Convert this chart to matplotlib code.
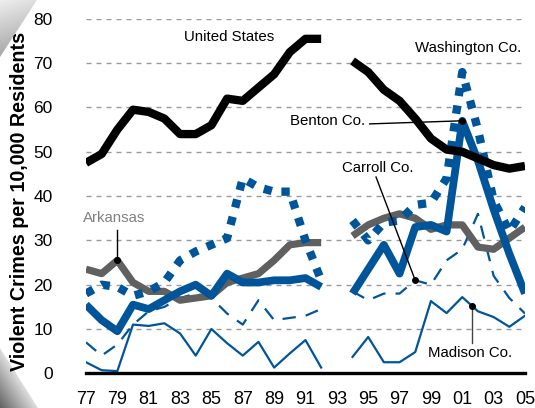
import numpy as np
import matplotlib
matplotlib.use('Agg')
import matplotlib.pyplot as plt
from matplotlib.patches import Polygon

plt.rcParams['font.family'] = ['Liberation Sans', 'DejaVu Sans']

# violent crimes per 10,000 residents, no figures for 1993
years_a = list(range(1977, 1993))
years_b = list(range(1994, 2006))

us_a = [47.5, 49.5, 55, 59.5, 59, 57.5, 54, 54, 56, 62, 61.5, 64.5, 67.5, 72.5, 75.5, 75.5]
us_b = [70.5, 68, 64, 61.5, 57.5, 53, 50.5, 50, 48.5, 47, 46.2, 46.8]

arkansas_a = [23.5, 22.5, 25.5, 20.5, 18.5, 18.5, 16.5, 17, 17.5, 20.5, 21.5, 22.5, 25.5, 29, 29.5, 29.5]
arkansas_b = [31, 33.5, 35, 36, 35, 32.5, 33.5, 33.5, 28.5, 28, 30.5, 33]

benton_a = [15.5, 12, 9.5, 15.5, 14.5, 16.5, 18.5, 20, 17.5, 22.5, 20.5, 20.5, 21, 21, 21.5, 19.5]
benton_b = [18, 23.5, 29, 22.5, 33, 33.5, 32, 57, 48, 37, 27, 18]

washington_a = [18, 20, 19.5, 17.5, 18.5, 20.5, 25.5, 27.5, 29, 30.5, 44, 42, 41, 41, 30, 21]
washington_b = [34.5, 30, 34, 34.5, 38, 38.5, 44, 68, 55, 39, 32, 37.5]

carroll_a = [7, 4, 6.5, 11, 14, 15, 17, 18, 17, 13.5, 11, 16.5, 12, 12.5, 13, 14.5]
carroll_b = [18.5, 16.5, 18, 18, 21, 20, 25.5, 28, 36, 22, 17, 13.5]

madison_a = [2.5, 0.7, 0.5, 11, 10.7, 11.3, 9, 4, 10, 6.8, 4, 7.1, 1.3, 4.5, 7.5, 1.3]
madison_b = [3.7, 8.2, 2.5, 2.5, 4.8, 16.3, 13.6, 17.2, 14, 12.7, 10.5, 13]

tick_years = list(range(1977, 2006, 2))
tick_labels = ['%02d' % (y % 100) for y in tick_years]

BLUE = '#00559a'
GRAY = '#606060'

fig = plt.figure(figsize=(5.35, 4.08), dpi=100)

# curled page corners, drawn in pixel space behind everything
bg = fig.add_axes([0, 0, 1, 1], zorder=-5)
gx, gy = np.meshgrid(np.arange(0, 60), np.arange(0, 408))

top = 0.93 - 0.22 * (gy / 57.0) - 0.06 * np.clip((gx / 37.0 + gy / 57.0), 0, 1)
top_img = bg.imshow(np.clip(top, 0, 1), cmap='gray', vmin=0, vmax=1,
                    extent=(0, 60, 408, 0), interpolation='bilinear')
top_img.set_clip_path(Polygon([(0, 0), (37, 0), (0, 57)], transform=bg.transData))

d = np.clip(gx / 40.0 - (gy - 345) / 63.0 + 1, 0, 1)
low = 0.38 + 0.52 * d
low_img = bg.imshow(np.clip(low, 0, 1), cmap='gray', vmin=0, vmax=1,
                    extent=(0, 60, 408, 0), interpolation='bilinear')
low_img.set_clip_path(Polygon([(0, 348), (0, 408), (38, 408)], transform=bg.transData))
bg.set_xlim(0, 535)
bg.set_ylim(408, 0)
bg.axis('off')

ax = fig.add_axes([0.1607, 0.0850, 0.8206, 0.8687])
ax.set_facecolor('none')
ax.set_xlim(1977, 2005)
ax.set_ylim(0, 80)

for xs, ys in ((years_a, madison_a), (years_b, madison_b)):
    ax.plot(xs, ys, color=BLUE, lw=1.6, zorder=3)
for xs, ys in ((years_a, carroll_a), (years_b, carroll_b)):
    ax.plot(xs, ys, color=BLUE, lw=1.6, linestyle=(0, (6, 4.5)), zorder=3)
for xs, ys in ((years_a, arkansas_a), (years_b, arkansas_b)):
    ax.plot(xs, ys, color=GRAY, lw=5.2, solid_capstyle='butt', zorder=4)
for xs, ys in ((years_a, washington_a), (years_b, washington_b)):
    ax.plot(xs, ys, color=BLUE, lw=6.0, linestyle=(0, (1.0, 1.15)),
            dash_capstyle='butt', zorder=5)
for xs, ys in ((years_a, benton_a), (years_b, benton_b)):
    ax.plot(xs, ys, color=BLUE, lw=5.6, solid_capstyle='butt', zorder=6)
for xs, ys in ((years_a, us_a), (years_b, us_b)):
    ax.plot(xs, ys, color='black', lw=6.0, solid_capstyle='butt', zorder=7)

# grid and baseline
for v in range(10, 90, 10):
    ax.axhline(v, color='#9a9a9a', lw=1.0, linestyle=(0, (3.6, 3.6)), zorder=1)
ax.axhline(0, color='black', lw=2.4, zorder=8, clip_on=False)

for s in ax.spines.values():
    s.set_visible(False)
ax.set_yticks(range(0, 90, 10))
ax.set_yticklabels([str(v) for v in range(0, 90, 10)], fontsize=12.5)
ax.set_xticks(tick_years)
ax.set_xticklabels(tick_labels, fontsize=13)
ax.tick_params(axis='y', length=0, pad=24)
ax.tick_params(axis='x', length=0, pad=13)
ax.set_ylabel('Violent Crimes per 10,000 Residents', fontsize=14.2, fontweight='bold')
ax.yaxis.set_label_coords(-0.129, 0.485)

# series labels with leader lines
lab = dict(fontsize=10.8, ha='center', va='center', zorder=10)
ax.text(1986.1, 75.8, 'United States', color='black', **lab)
ax.text(2001.4, 73.5, 'Washington Co.', color='black', **lab)
ax.text(1992.4, 57.0, 'Benton Co.', color='black', **lab)
ax.text(1995.6, 46.3, 'Carroll Co.', color='black', **lab)
ax.text(2001.5, 4.6, 'Madison Co.', color='black', **lab)
ax.text(1978.8, 35.0, 'Arkansas', color='#808080', **lab)

def pointer(x0, y0, x1, y1, color='black'):
    ax.plot([x0, x1], [y0, y1], color=color, lw=1.0, zorder=11)
    ax.plot([x1], [y1], 'o', color='black', ms=4, zorder=12)

pointer(1995.1, 56.3, 2001, np.interp(2001, years_b, benton_b))
pointer(1995.5, 44.3, 1998, np.interp(1998, years_b, carroll_b))
pointer(2001.6, 6.9, 2001.6, np.interp(2001.6, years_b, madison_b), color='#444444')
pointer(1979, 32.4, 1979, np.interp(1979, years_a, arkansas_a))

fig.savefig('out.png', dpi=100)
